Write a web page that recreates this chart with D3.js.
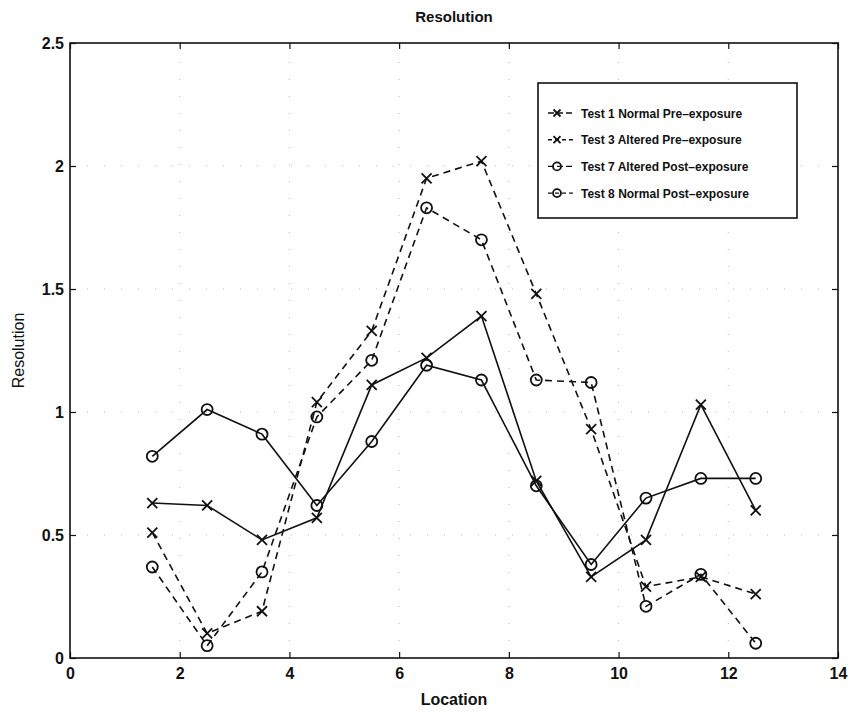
<!DOCTYPE html>
<html>
<head>
<meta charset="utf-8">
<script src="https://cdn.jsdelivr.net/npm/d3@7"></script>
<style>
  body { margin: 0; background: #fff; }
  svg { display: block; font-family: "Liberation Sans", Arial, Helvetica, sans-serif; }
</style>
</head>
<body>
<svg id="chart" width="853" height="713"></svg>
<script>
// Measurement locations
const locations = [1.5, 2.5, 3.5, 4.5, 5.5, 6.5, 7.5, 8.5, 9.5, 10.5, 11.5, 12.5];

// Resolution per test
const test1Normal = [0.63, 0.62, 0.48, 0.57, 1.11, 1.22, 1.39, 0.72, 0.33, 0.48, 1.03, 0.60];
const test3Altered = [0.51, 0.10, 0.19, 1.04, 1.33, 1.95, 2.02, 1.48, 0.93, 0.29, 0.33, 0.26];
const test7Altered = [0.82, 1.01, 0.91, 0.62, 0.88, 1.19, 1.13, 0.70, 0.38, 0.65, 0.73, 0.73];
const test8Normal = [0.37, 0.05, 0.35, 0.98, 1.21, 1.83, 1.70, 1.13, 1.12, 0.21, 0.34, 0.06];

const xTicks = [0, 2, 4, 6, 8, 10, 12, 14];
const yTicks = [0, 0.5, 1, 1.5, 2, 2.5];

const seriesNames = [
  "Test 1 Normal Pre\u2013exposure",
  "Test 3 Altered Pre\u2013exposure",
  "Test 7 Altered Post\u2013exposure",
  "Test 8 Normal Post\u2013exposure"
];

const series = [
  { name: seriesNames[0], values: test1Normal, marker: "x", dash: null },
  { name: seriesNames[1], values: test3Altered, marker: "x", dash: "7,5" },
  { name: seriesNames[2], values: test7Altered, marker: "o", dash: null },
  { name: seriesNames[3], values: test8Normal, marker: "o", dash: "7,5" }
];

const svg = d3.select("#chart");
const margin = { left: 70, right: 15, top: 43, bottom: 55 };
const W = 853, H = 713;
const x = d3.scaleLinear().domain([0, 14]).range([margin.left, W - margin.right]);
const y = d3.scaleLinear().domain([0, 2.5]).range([H - margin.bottom, margin.top]);

const ink = "#111";

// faint dotted grid
const grid = svg.append("g").attr("stroke", "#bbb").attr("stroke-width", 1)
  .attr("stroke-dasharray", "1,16");
xTicks.slice(1, -1).forEach(t => {
  grid.append("line").attr("x1", x(t)).attr("x2", x(t)).attr("y1", y(0)).attr("y2", y(2.5));
});
yTicks.slice(1, -1).forEach(t => {
  grid.append("line").attr("x1", x(0)).attr("x2", x(14)).attr("y1", y(t)).attr("y2", y(t));
});

// axes with inward ticks
const xAxis = d3.axisBottom(x).tickValues(xTicks).tickSize(-6).tickPadding(10)
  .tickFormat(d3.format("d"));
const yAxis = d3.axisLeft(y).tickValues(yTicks).tickSize(-6).tickPadding(6)
  .tickFormat(d => d === 0 ? "0" : d3.format("")(d));

const gx = svg.append("g").attr("transform", `translate(0,${y(0)})`).call(xAxis);
const gy = svg.append("g").attr("transform", `translate(${x(0)},0)`).call(yAxis);
[gx, gy].forEach(g => {
  g.select(".domain").remove();
  g.selectAll(".tick line").attr("stroke", ink).attr("stroke-width", 1.2);
  g.selectAll(".tick text").attr("fill", ink).attr("font-size", 16).attr("font-weight", "bold");
});
// top/right ticks
const gxt = svg.append("g").attr("transform", `translate(0,${y(2.5)})`)
  .call(d3.axisTop(x).tickValues(xTicks).tickSize(-6).tickFormat(""));
const gyr = svg.append("g").attr("transform", `translate(${x(14)},0)`)
  .call(d3.axisRight(y).tickValues(yTicks).tickSize(-6).tickFormat(""));
[gxt, gyr].forEach(g => {
  g.select(".domain").remove();
  g.selectAll(".tick line").attr("stroke", ink).attr("stroke-width", 1.2);
});

// frame
svg.append("rect")
  .attr("x", x(0)).attr("y", y(2.5))
  .attr("width", x(14) - x(0)).attr("height", y(0) - y(2.5))
  .attr("fill", "none").attr("stroke", ink).attr("stroke-width", 1.6);

// lines
const line = d3.line().x((d, i) => x(locations[i])).y(d => y(d));
const plot = svg.append("g");

function drawMarker(g, type, cx, cy, s) {
  if (type === "x") {
    g.append("path")
      .attr("d", `M${cx - s},${cy - s}L${cx + s},${cy + s}M${cx - s},${cy + s}L${cx + s},${cy - s}`)
      .attr("stroke", ink).attr("stroke-width", 1.8).attr("fill", "none");
  } else {
    g.append("circle").attr("cx", cx).attr("cy", cy).attr("r", s)
      .attr("stroke", ink).attr("stroke-width", 1.8).attr("fill", "none");
  }
}

series.forEach(s => {
  plot.append("path").datum(s.values)
    .attr("d", line)
    .attr("fill", "none").attr("stroke", ink).attr("stroke-width", 1.6)
    .attr("stroke-dasharray", s.dash);
  s.values.forEach((v, i) => {
    drawMarker(plot, s.marker, x(locations[i]), y(v), s.marker === "x" ? 5 : 5.5);
  });
});

// title and axis labels
svg.append("text").attr("x", (x(0) + x(14)) / 2).attr("y", 22)
  .attr("text-anchor", "middle").attr("font-size", 15).attr("font-weight", "bold")
  .attr("fill", ink).text("Resolution");
svg.append("text").attr("x", (x(0) + x(14)) / 2).attr("y", 705)
  .attr("text-anchor", "middle").attr("font-size", 16).attr("font-weight", "bold")
  .attr("fill", ink).text("Location");
svg.append("text")
  .attr("transform", `translate(24,${(y(0) + y(2.5)) / 2}) rotate(-90)`)
  .attr("text-anchor", "middle").attr("font-size", 16)
  .attr("fill", ink).text("Resolution");

// legend
const lg = svg.append("g");
const lx0 = 538, ly0 = 83, lw = 259, lh = 135;
lg.append("rect").attr("x", lx0).attr("y", ly0).attr("width", lw).attr("height", lh)
  .attr("fill", "#fff").attr("stroke", ink).attr("stroke-width", 1.6);
series.forEach((s, i) => {
  const yy = 113 + i * 26.7;
  lg.append("line").attr("x1", 548).attr("x2", 574).attr("y1", yy).attr("y2", yy)
    .attr("stroke", ink).attr("stroke-width", 1.4)
    .attr("stroke-dasharray", s.dash ? "4,3" : "6,3");
  drawMarker(lg, s.marker, 557, yy, s.marker === "x" ? 3.5 : 4);
  lg.append("text").attr("x", 581).attr("y", yy + 4.5)
    .attr("font-size", 12).attr("font-weight", "bold").attr("fill", ink).text(s.name);
});
</script>
</body>
</html>
